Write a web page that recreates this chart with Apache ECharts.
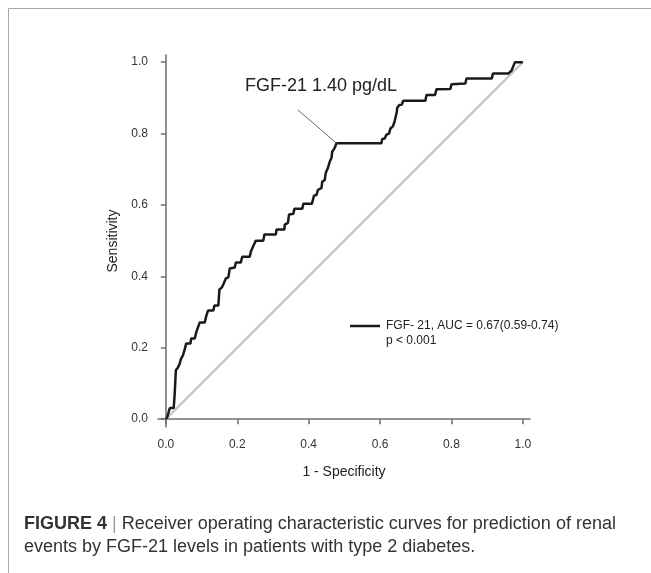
<!DOCTYPE html>
<html>
<head>
<meta charset="utf-8">
<script src="https://cdn.jsdelivr.net/npm/echarts@6/dist/echarts.min.js"></script>
<style>
  html, body { margin: 0; padding: 0; background: #fff; }
  #chart { width: 651px; height: 573px; }
</style>
</head>
<body>
<div id="chart"></div>
<script>
// ROC curve: 1 - specificity / sensitivity
const fpr = [0, 0.003, 0.004, 0.008, 0.011, 0.022, 0.025, 0.028, 0.034, 0.039,
  0.042, 0.048, 0.050, 0.053, 0.057, 0.069, 0.071, 0.081, 0.085, 0.090,
  0.095, 0.109, 0.113, 0.118, 0.133, 0.136, 0.147, 0.150, 0.157, 0.162,
  0.168, 0.175, 0.179, 0.193, 0.196, 0.210, 0.214, 0.235, 0.238, 0.244,
  0.252, 0.273, 0.276, 0.308, 0.310, 0.332, 0.333, 0.342, 0.345, 0.357,
  0.360, 0.382, 0.385, 0.409, 0.415, 0.422, 0.426, 0.436, 0.438, 0.445,
  0.448, 0.454, 0.459, 0.464, 0.466, 0.473, 0.478, 0.604, 0.606, 0.613,
  0.618, 0.625, 0.629, 0.636, 0.641, 0.646, 0.647, 0.648, 0.654, 0.661,
  0.665, 0.727, 0.730, 0.754, 0.758, 0.797, 0.800, 0.839, 0.842, 0.913,
  0.916, 0.959, 0.968, 0.978, 1.0];
const tpr = [0, 0, 0.006, 0.008, 0.031, 0.031, 0.075, 0.137, 0.145, 0.156,
  0.168, 0.179, 0.184, 0.196, 0.212, 0.212, 0.226, 0.226, 0.243, 0.257,
  0.271, 0.271, 0.288, 0.304, 0.304, 0.318, 0.318, 0.363, 0.369, 0.380,
  0.394, 0.397, 0.422, 0.425, 0.439, 0.439, 0.455, 0.455, 0.469, 0.483,
  0.500, 0.500, 0.517, 0.517, 0.531, 0.531, 0.545, 0.550, 0.573, 0.575,
  0.589, 0.589, 0.603, 0.603, 0.626, 0.628, 0.642, 0.648, 0.665, 0.670,
  0.690, 0.704, 0.721, 0.732, 0.749, 0.760, 0.773, 0.773, 0.785, 0.786,
  0.797, 0.800, 0.814, 0.820, 0.835, 0.837, 0.861, 0.872, 0.880, 0.881,
  0.892, 0.892, 0.908, 0.908, 0.924, 0.925, 0.938, 0.940, 0.954, 0.954,
  0.968, 0.968, 0.976, 1.0, 1.0];
const refLine = [[0, 0], [1, 1]];
const tickValues = [0, 0.2, 0.4, 0.6, 0.8, 1.0];
const cutoffPoint = [0.478, 0.773];
const cutoffLabelAt = [0.370, 0.866];

const seriesName = "FGF- 21, AUC = 0.67(0.59-0.74)";
const font = "Liberation Sans, Arial, sans-serif";

let chart = echarts.init(document.getElementById("chart"));

let axisCommon = {
  type: "value",
  min: -0.022,
  max: 1.02,
  axisLine: { show: true, lineStyle: { color: "#6e6e6e", width: 1.5 } },
  axisTick: { show: true, customValues: tickValues, length: 5, lineStyle: { color: "#6e6e6e", width: 1.5 } },
  axisLabel: {
    customValues: tickValues,
    color: "#333",
    fontSize: 12,
    fontFamily: font,
    formatter: (v) => v.toFixed(1),
  },
  splitLine: { show: false },
  nameLocation: "middle",
  nameTextStyle: { color: "#222", fontSize: 14, fontFamily: font },
};

let option = {
  animation: false,
  grid: { left: 158, right: 121, top: 55, bottom: 146 },
  xAxis: Object.assign({}, axisCommon, {
    name: "1 - Specificity",
    nameGap: 38,
    axisLabel: Object.assign({}, axisCommon.axisLabel, { margin: 12 }),
  }),
  yAxis: Object.assign({}, axisCommon, {
    name: "Sensitivity",
    nameGap: 34,
    axisLabel: Object.assign({}, axisCommon.axisLabel, { margin: 10 }),
  }),
  legend: {
    data: [seriesName],
    left: 350,
    top: 320,
    padding: 0,
    icon: "rect",
    itemWidth: 30,
    itemHeight: 2.5,
    itemGap: 0,
    textStyle: { color: "#222", fontSize: 12, fontFamily: font, padding: [0, 0, 0, 1] },
  },
  series: [
    {
      type: "line",
      name: "reference",
      data: refLine,
      showSymbol: false,
      silent: true,
      lineStyle: { color: "#c8c8c8", width: 2.5 },
      itemStyle: { color: "#c8c8c8" },
    },
    {
      type: "line",
      name: seriesName,
      data: fpr.map((x, i) => [x, tpr[i]]),
      showSymbol: false,
      lineStyle: { color: "#1a1a1a", width: 2.5 },
      itemStyle: { color: "#1a1a1a" },
      markLine: {
        silent: true,
        symbol: "none",
        label: { show: false },
        lineStyle: { color: "#666", width: 1, type: "solid" },
        data: [[{ coord: cutoffLabelAt }, { coord: cutoffPoint }]],
      },
    },
  ],
  graphic: [
    // frame lines of the figure panel
    { type: "line", shape: { x1: 8.5, y1: 8.5, x2: 651, y2: 8.5 }, style: { stroke: "#a8a8a8", lineWidth: 1 } },
    { type: "line", shape: { x1: 8.5, y1: 8.5, x2: 8.5, y2: 573 }, style: { stroke: "#a8a8a8", lineWidth: 1 } },
    {
      type: "text",
      left: 245,
      top: 77,
      style: { text: "FGF-21 1.40 pg/dL", fill: "#222", fontSize: 18, fontFamily: font },
    },
    {
      type: "text",
      left: 386,
      top: 335,
      style: { text: "p < 0.001", fill: "#222", fontSize: 12, fontFamily: font },
    },
    {
      type: "text",
      left: 24,
      top: 513,
      style: {
        text: "{b|FIGURE 4} {bar||} Receiver operating characteristic curves for prediction of renal\nevents by FGF-21 levels in patients with type 2 diabetes.",
        fill: "#333",
        fontSize: 18,
        fontFamily: font,
        lineHeight: 23,
        rich: {
          b: { fontWeight: "bold", fontSize: 18, fontFamily: font, fill: "#333", lineHeight: 23 },
          bar: { fontSize: 18, fontFamily: font, fill: "#999", lineHeight: 23 },
        },
      },
    },
  ],
};

chart.setOption(option);
</script>
</body>
</html>
